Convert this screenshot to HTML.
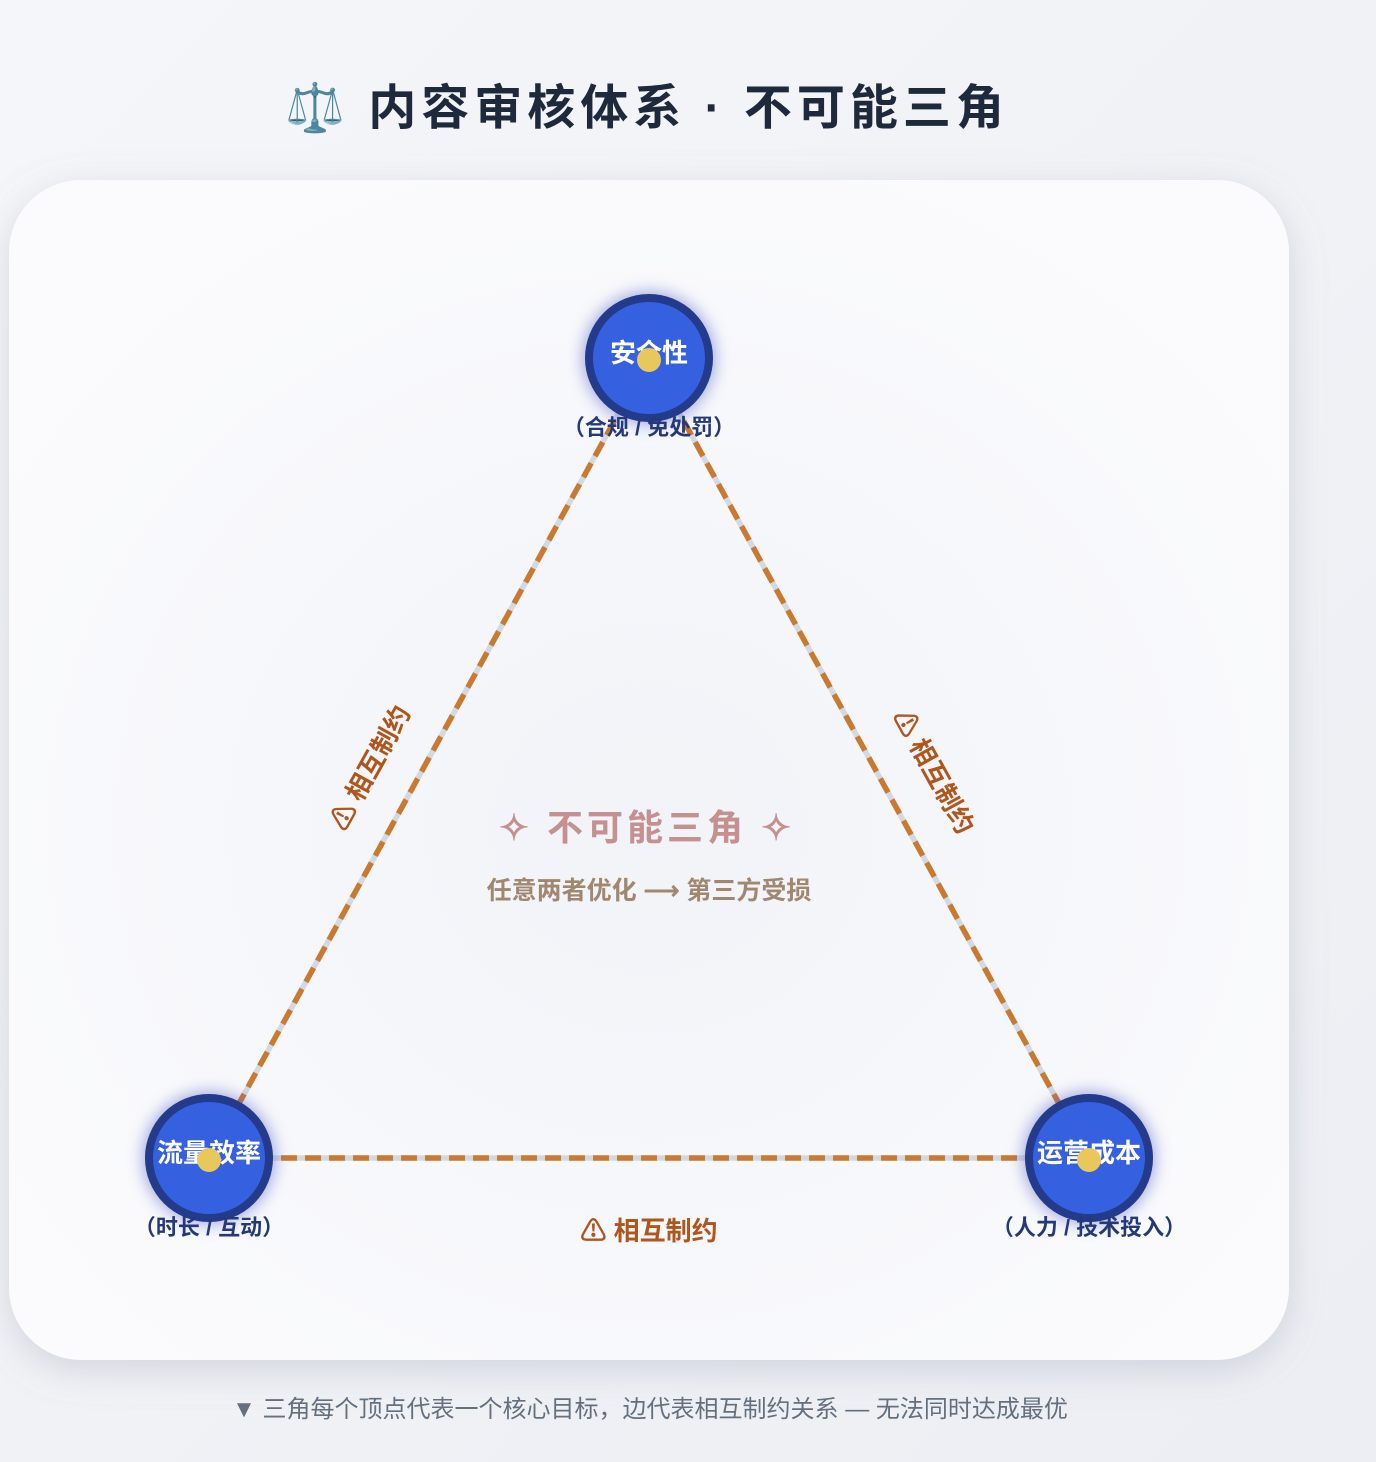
<!DOCTYPE html>
<html><head><meta charset="utf-8">
<style>
html,body{margin:0;padding:0;width:1376px;height:1462px;overflow:hidden;background:linear-gradient(135deg,#f5f6f9,#eceef3);}
svg{display:block}
text{font-family:"Liberation Sans","Noto Sans CJK SC",sans-serif;}
</style></head><body>
<svg width="1376" height="1462" viewBox="0 0 1376 1462" xmlns="http://www.w3.org/2000/svg">
<defs>
<filter id="sh" x="-10%" y="-10%" width="120%" height="120%"><feDropShadow dx="0" dy="10" stdDeviation="18" flood-color="#8a93a8" flood-opacity="0.3"/></filter>
<filter id="glow" x="-50%" y="-50%" width="200%" height="200%"><feGaussianBlur stdDeviation="8"/></filter>
<radialGradient id="cg" cx="0.5" cy="0.55" r="0.6"><stop offset="0" stop-color="#f1f3f8"/><stop offset="1" stop-color="#fbfbfd"/></radialGradient>
</defs>
<text x="647" y="124" text-anchor="middle" font-size="48" font-weight="700" fill="#1e293b" letter-spacing="5">⚖️ 内容审核体系 · 不可能三角</text>
<rect x="9" y="180" width="1280" height="1180" rx="72" fill="url(#cg)" filter="url(#sh)"/>
<g stroke-width="5.5" fill="none">
<g stroke="#d3d9e2"><line x1="649" y1="358" x2="209" y2="1158"/><line x1="649" y1="358" x2="1089" y2="1158"/><line x1="209" y1="1158" x2="1089" y2="1158"/></g>
<g stroke="#c97a2e" stroke-dasharray="16 8"><line x1="649" y1="358" x2="209" y2="1158"/><line x1="649" y1="358" x2="1089" y2="1158"/><line x1="209" y1="1158" x2="1089" y2="1158"/></g>
</g>
<text x="647" y="840" text-anchor="middle" font-size="36" font-weight="700" fill="#c49090" letter-spacing="4">✧ 不可能三角 ✧</text>
<text x="649" y="899" text-anchor="middle" font-size="25" font-weight="700" fill="#a08870">任意两者优化 ⟶ 第三方受损</text>
<text transform="translate(378,772) rotate(-61)" text-anchor="middle" font-size="26" font-weight="700" fill="#b0561c">⚠ 相互制约</text>
<text transform="translate(926,776) rotate(61)" text-anchor="middle" font-size="26" font-weight="700" fill="#b0561c">⚠ 相互制约</text>
<text x="649" y="1240" text-anchor="middle" font-size="26" font-weight="700" fill="#b0561c">⚠ 相互制约</text>
<g>
<circle cx="649" cy="358" r="66" fill="#5560c8" opacity="0.55" filter="url(#glow)"/>
<circle cx="649" cy="358" r="60" fill="#3560e0" stroke="#243a8a" stroke-width="8"/>
<text x="649" y="362" text-anchor="middle" font-size="26" font-weight="700" fill="#fff">安全性</text>
<circle cx="649" cy="360" r="12" fill="#e8c85a"/>
<text x="649" y="435" text-anchor="middle" font-size="22" font-weight="700" fill="#25397a">（合规 / 免处罚）</text>
</g>
<g>
<circle cx="209" cy="1158" r="66" fill="#5560c8" opacity="0.55" filter="url(#glow)"/>
<circle cx="209" cy="1158" r="60" fill="#3560e0" stroke="#243a8a" stroke-width="8"/>
<text x="209" y="1162" text-anchor="middle" font-size="26" font-weight="700" fill="#fff">流量效率</text>
<circle cx="209" cy="1160" r="12" fill="#e8c85a"/>
<text x="209" y="1235" text-anchor="middle" font-size="22" font-weight="700" fill="#25397a">（时长 / 互动）</text>
</g>
<g>
<circle cx="1089" cy="1158" r="66" fill="#5560c8" opacity="0.55" filter="url(#glow)"/>
<circle cx="1089" cy="1158" r="60" fill="#3560e0" stroke="#243a8a" stroke-width="8"/>
<text x="1089" y="1162" text-anchor="middle" font-size="26" font-weight="700" fill="#fff">运营成本</text>
<circle cx="1089" cy="1160" r="12" fill="#e8c85a"/>
<text x="1089" y="1235" text-anchor="middle" font-size="22" font-weight="700" fill="#25397a">（人力 / 技术投入）</text>
</g>
<text x="650" y="1417" text-anchor="middle" font-size="24" fill="#64707e">▼ 三角每个顶点代表一个核心目标，边代表相互制约关系 — 无法同时达成最优</text>
</svg>
</body></html>
